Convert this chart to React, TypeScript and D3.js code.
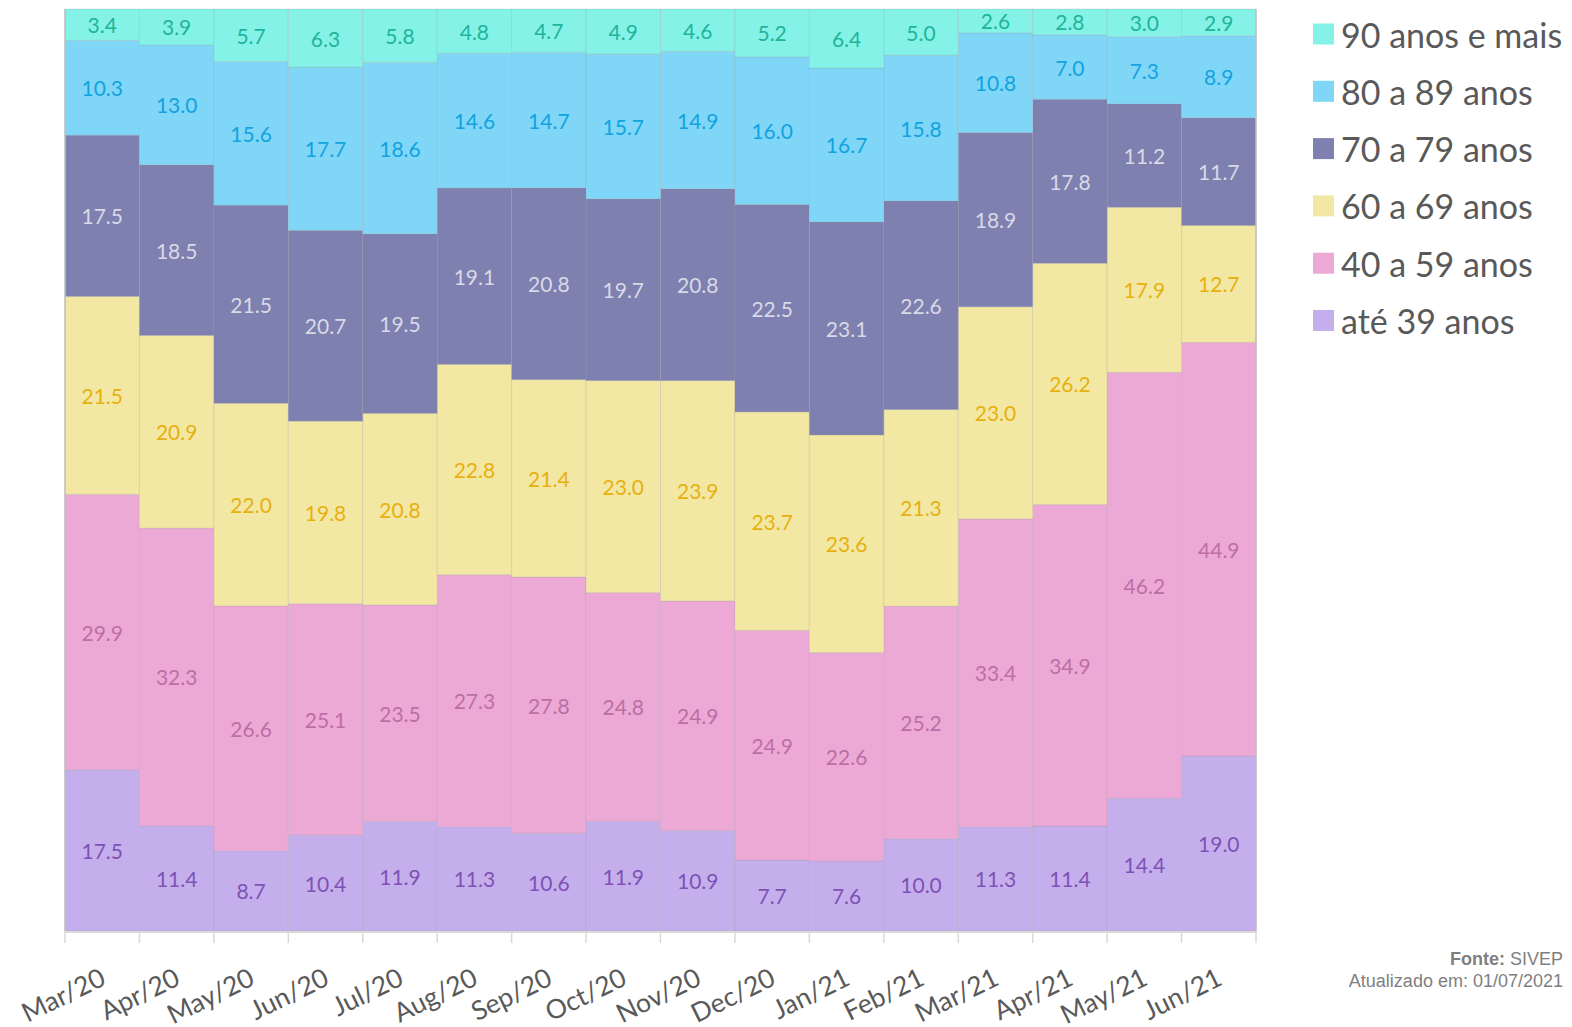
import React from 'react';
import * as d3 from 'd3';

const months = ['Mar/20', 'Apr/20', 'May/20', 'Jun/20', 'Jul/20', 'Aug/20', 'Sep/20', 'Oct/20',
  'Nov/20', 'Dec/20', 'Jan/21', 'Feb/21', 'Mar/21', 'Apr/21', 'May/21', 'Jun/21'];

// share (%) of each age group per month
const ate39 = [17.5, 11.4, 8.7, 10.4, 11.9, 11.3, 10.6, 11.9, 10.9, 7.7, 7.6, 10.0, 11.3, 11.4, 14.4, 19.0];
const de40a59 = [29.9, 32.3, 26.6, 25.1, 23.5, 27.3, 27.8, 24.8, 24.9, 24.9, 22.6, 25.2, 33.4, 34.9, 46.2, 44.9];
const de60a69 = [21.5, 20.9, 22.0, 19.8, 20.8, 22.8, 21.4, 23.0, 23.9, 23.7, 23.6, 21.3, 23.0, 26.2, 17.9, 12.7];
const de70a79 = [17.5, 18.5, 21.5, 20.7, 19.5, 19.1, 20.8, 19.7, 20.8, 22.5, 23.1, 22.6, 18.9, 17.8, 11.2, 11.7];
const de80a89 = [10.3, 13.0, 15.6, 17.7, 18.6, 14.6, 14.7, 15.7, 14.9, 16.0, 16.7, 15.8, 10.8, 7.0, 7.3, 8.9];
const de90mais = [3.4, 3.9, 5.7, 6.3, 5.8, 4.8, 4.7, 4.9, 4.6, 5.2, 6.4, 5.0, 2.6, 2.8, 3.0, 2.9];

const keys = ['ate39', 'de40a59', 'de60a69', 'de70a79', 'de80a89', 'de90mais'];
const names = ['até 39 anos', '40 a 59 anos', '60 a 69 anos', '70 a 79 anos', '80 a 89 anos', '90 anos e mais'];
const fills = ['#C5AEEC', '#EDA9D6', '#F2E8A4', '#7E80AF', '#7FD6F7', '#84F2E6'];
const labelColors = ['#7E52B5', '#BB6FA5', '#E8B00F', '#D9D9E8', '#12A3E0', '#21B49B'];

const W = 1572;
const H = 1027;
const left = 65;
const right = 1256;
const top = 9;
const bottom = 931;

export default function App() {
  const seriesValues = [ate39, de40a59, de60a69, de70a79, de80a89, de90mais];
  const rows = months.map((m, i) => {
    const r: any = { month: m };
    keys.forEach((k, j) => { r[k] = seriesValues[j][i]; });
    return r;
  });

  const stack = d3.stack<any>().keys(keys).offset(d3.stackOffsetExpand);
  const layers = stack(rows);

  const x = d3.scaleBand<string>().domain(months).range([left, right]).padding(0);
  const y = d3.scaleLinear().domain([0, 1]).range([bottom, top]);
  const bw = x.bandwidth();

  return (
    <svg width={W} height={H} style={{ position: 'absolute', left: 0, top: 0 }}>
      <rect width={W} height={H} fill="#fff" />
      {layers.map((layer, j) => (
        <g key={keys[j]}>
          {layer.map((d, i) => (
            <rect key={i} x={x(months[i])} y={y(d[1])} width={bw} height={y(d[0]) - y(d[1])}
              fill={fills[j]} stroke="rgba(150,150,150,0.22)" strokeWidth={1} />
          ))}
        </g>
      ))}
      {layers.map((layer, j) => (
        <g key={'l' + keys[j]}>
          {layer.map((d, i) => (
            <text key={i} x={(x(months[i]) as number) + bw / 2} y={(y(d[0]) + y(d[1])) / 2}
              textAnchor="middle" dominantBaseline="central" fontFamily="Lato, sans-serif"
              fontSize={21} fill={labelColors[j]}>
              {seriesValues[j][i].toFixed(1)}
            </text>
          ))}
        </g>
      ))}
      {/* axes */}
      <line x1={left} x2={left} y1={top} y2={bottom} stroke="#BFBFBF" strokeWidth={1.5} />
      <line x1={right} x2={right} y1={top} y2={bottom} stroke="#BFBFBF" strokeWidth={1.5} />
      <line x1={left} x2={right} y1={bottom + 1} y2={bottom + 1} stroke="#D9D9D9" strokeWidth={2} />
      {months.concat(['end']).map((m, i) => {
        const tx = left + i * bw;
        return <line key={m} x1={tx} x2={tx} y1={bottom} y2={bottom + 12} stroke="#D9D9D9" strokeWidth={1.5} />;
      })}
      {months.map((m) => {
        const cx = (x(m) as number) + bw / 2 + 5;
        const cy = 984;
        return (
          <text key={m} x={cx} y={cy} transform={`rotate(-26 ${cx} ${cy})`} textAnchor="end"
            fontFamily="Lato, sans-serif" fontSize={26.5} fill="#595959">{m}</text>
        );
      })}
      {/* legend */}
      {names.map((n, j) => {
        const row = names.length - 1 - j;
        const cy = 34 + row * 57.3;
        return (
          <g key={n}>
            <rect x={1313} y={cy - 10.5} width={21} height={21} fill={fills[j]} />
            <text x={1341} y={cy} dominantBaseline="central" fontFamily="Lato, sans-serif"
              fontSize={34} fill="#595959">{n}</text>
          </g>
        );
      })}
      <text x={1563} y={965} textAnchor="end" fontFamily="'Liberation Sans', Arial, sans-serif"
        fontSize={18} fill="#7F7F7F">
        <tspan fontWeight="bold">Fonte:</tspan> SIVEP
      </text>
      <text x={1563} y={987} textAnchor="end" fontFamily="'Liberation Sans', Arial, sans-serif"
        fontSize={18} fill="#7F7F7F">Atualizado em: 01/07/2021</text>
    </svg>
  );
}
